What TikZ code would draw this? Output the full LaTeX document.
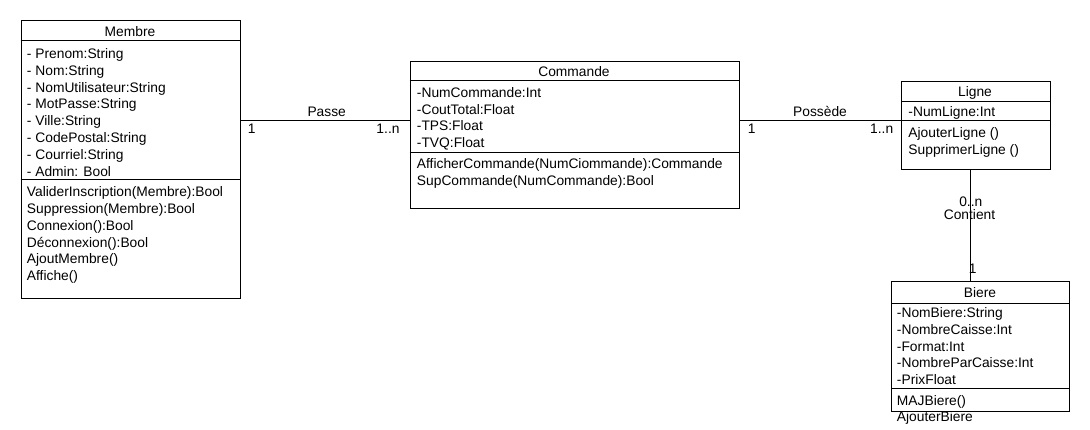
\documentclass[tikz,border=0pt]{standalone}
\usepackage{fontspec}
\setmainfont{Liberation Sans}
\begin{document}
\begin{tikzpicture}[x=1pt,y=-1pt,line width=0.9pt,
  cls/.style={draw,rectangle,inner sep=0pt,anchor=north west},
  txt/.style={anchor=base west,inner sep=0pt,font=\fontsize{13.8}{16}\selectfont},
  ttl/.style={anchor=base,inner sep=0pt,font=\fontsize{13.8}{16}\selectfont},
  lbl/.style={anchor=base,inner sep=0pt,font=\fontsize{13.8}{16}\selectfont}]
\useasboundingbox (0,0) rectangle (1090,430);
% class boxes
\node[cls,minimum width=219pt,minimum height=277.5pt] (membre) at (20.5,20.5) {};
\node[cls,minimum width=329.5pt,minimum height=147.5pt] (commande) at (409.5,61) {};
\node[cls,minimum width=148.5pt,minimum height=88.5pt] (ligne) at (901,81) {};
\node[cls,minimum width=178pt,minimum height=130pt] (biere) at (891,281) {};
% compartments
\draw ([yshift=-19.5pt]membre.north west) -- ([yshift=-19.5pt]membre.north east);
\draw ([yshift=-159pt]membre.north west) -- ([yshift=-159pt]membre.north east);
\draw ([yshift=-19.5pt]commande.north west) -- ([yshift=-19.5pt]commande.north east);
\draw ([yshift=-91pt]commande.north west) -- ([yshift=-91pt]commande.north east);
\draw ([yshift=-20pt]ligne.north west) -- ([yshift=-20pt]ligne.north east);
\draw ([yshift=-39.5pt]ligne.north west) -- ([yshift=-39.5pt]ligne.north east);
\draw ([yshift=-22pt]biere.north west) -- ([yshift=-22pt]biere.north east);
\draw ([yshift=-107pt]biere.north west) -- ([yshift=-107pt]biere.north east);
% Membre
\node[ttl] (mt) at (130,36.5) {Membre};
\node[txt] (ma1) at (26.5,58.5) {- Prenom:String};
\node[txt] (ma2) at (26.5,75.3) {- Nom:String};
\node[txt] (ma3) at (26.5,92.1) {- NomUtilisateur:String};
\node[txt] (ma4) at (26.5,108.9) {- MotPasse:String};
\node[txt] (ma5) at (26.5,125.7) {- Ville:String};
\node[txt] (ma6) at (26.5,142.5) {- CodePostal:String};
\node[txt] (ma7) at (26.5,159.3) {- Courriel:String};
\node[txt] (ma8) at (26.5,176.1) {- Admin: Bool};
\node[txt] (mm1) at (26.5,196.7) {ValiderInscription(Membre):Bool};
\node[txt] (mm2) at (26.5,213.5) {Suppression(Membre):Bool};
\node[txt] (mm3) at (26.5,230.3) {Connexion():Bool};
\node[txt] (mm4) at (26.5,247.1) {Déconnexion():Bool};
\node[txt] (mm5) at (26.5,263.9) {AjoutMembre()};
\node[txt] (mm6) at (26.5,280.7) {Affiche()};
% Commande
\node[ttl] (ct) at (574,76.5) {Commande};
\node[txt] (ca1) at (416.5,97.3) {-NumCommande:Int};
\node[txt] (ca2) at (416.5,114.1) {-CoutTotal:Float};
\node[txt] (ca3) at (416.5,130.9) {-TPS:Float};
\node[txt] (ca4) at (416.5,147.7) {-TVQ:Float};
\node[txt] (cm1) at (416.5,168.3) {AfficherCommande(NumCiommande):Commande};
\node[txt] (cm2) at (416.5,185.1) {SupCommande(NumCommande):Bool};
% Ligne
\node[ttl] (lt) at (975,96.7) {Ligne};
\node[txt] (la1) at (908,116.7) {-NumLigne:Int};
\node[txt] (lm1) at (908,137.3) {AjouterLigne ()};
\node[txt] (lm2) at (908,154.5) {SupprimerLigne ()};
% Biere
\node[ttl] (bt) at (980,297.3) {Biere};
\node[txt] (ba1) at (896.5,317.7) {-NomBiere:String};
\node[txt] (ba2) at (896.5,334.4) {-NombreCaisse:Int};
\node[txt] (ba3) at (896.5,351.1) {-Format:Int};
\node[txt] (ba4) at (896.5,367.8) {-NombreParCaisse:Int};
\node[txt] (ba5) at (896.5,384.5) {-PrixFloat};
\node[txt] (bm1) at (896.5,406) {MAJBiere()};
\node[txt] (bm2) at (896.5,421.7) {AjouterBiere};
% associations
\coordinate (r120) at (0,120);
\coordinate (c970) at (970,0);
\draw (membre.east |- r120) -- (commande.west |- r120);
\draw (commande.east |- r120) -- (ligne.west |- r120);
\draw (ligne.south -| c970) -- (biere.north -| c970);
\node[lbl] (passe) at (326.7,116.5) {Passe};
\node[lbl] (p1) at (251.7,134) {1};
\node[lbl] (pn) at (388,134) {1..n};
\node[lbl] (poss) at (820,116.5) {Possède};
\node[lbl] (o1) at (751.7,134) {1};
\node[lbl] (on) at (881.7,134) {1..n};
\node[lbl] (cn) at (970.8,206.5) {0..n};
\node[lbl] (cont) at (969.5,219.5) {Contient};
\node[lbl] (c1) at (972.7,273.3) {1};
\end{tikzpicture}
\end{document}
